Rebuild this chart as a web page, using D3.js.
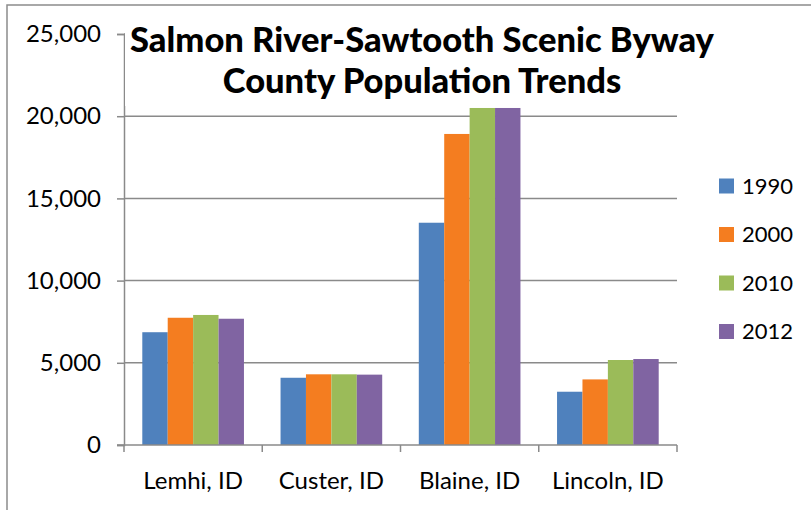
<!DOCTYPE html>
<html>
<head>
<meta charset="utf-8">
<script src="https://cdn.jsdelivr.net/npm/d3@7"></script>
<style>
  html, body { margin: 0; padding: 0; background: #fff; }
  svg { display: block; }
  text { font-family: Lato, "Open Sans", sans-serif; fill: #000; }
</style>
</head>
<body>
<svg id="chart" width="811" height="510"></svg>
<script>
// County population by census year
const counties = ["Lemhi, ID", "Custer, ID", "Blaine, ID", "Lincoln, ID"];
const years = ["1990", "2000", "2010", "2012"];
const pop1990 = [6860, 4090, 13520, 3240];
const pop2000 = [7740, 4300, 18920, 3990];
const pop2010 = [7910, 4300, 20500, 5170];
const pop2012 = [7680, 4280, 20500, 5230];
const yTicks = [0, 5000, 10000, 15000, 20000, 25000];
const yearColors = ["#4F81BD", "#F47D20", "#9BBB59", "#8064A2"];
const titleLines = ["Salmon River-Sawtooth Scenic Byway", "County Population Trends"];

const series = [pop1990, pop2000, pop2010, pop2012];
const rows = counties.map((c, i) => ({
  county: c,
  values: years.map((y, k) => ({ year: y, value: series[k][i] }))
}));

const svg = d3.select("#chart");
const W = 811, H = 510;
const plot = { left: 124, right: 677, top: 34, bottom: 445 };

// chart frame
svg.append("rect")
  .attr("x", 7).attr("y", 5)
  .attr("width", W + 20).attr("height", H + 20)
  .attr("fill", "#fff")
  .attr("stroke", "#8c8c8c").attr("stroke-width", 1.5);

const x0 = d3.scaleBand().domain(counties).range([plot.left, plot.right]).paddingInner(0).paddingOuter(0);
const x1 = d3.scaleBand().domain(years).range([0, x0.bandwidth()]).paddingInner(0).paddingOuter(0.72);
const y = d3.scaleLinear().domain([0, 25000]).range([plot.bottom, plot.top]);
const color = d3.scaleOrdinal().domain(years).range(yearColors);

// horizontal gridlines
svg.append("g")
  .selectAll("line")
  .data(yTicks.filter(t => t > 0))
  .join("line")
  .attr("x1", plot.left).attr("x2", plot.right)
  .attr("y1", d => y(d)).attr("y2", d => y(d))
  .attr("stroke", "#8a8a8a").attr("stroke-width", 1.5);

// y axis
const yAxis = d3.axisLeft(y)
  .tickValues(yTicks)
  .tickSize(7)
  .tickPadding(16)
  .tickFormat(d3.format(","));
const gy = svg.append("g").attr("transform", `translate(${plot.left},0)`).call(yAxis);
gy.select(".domain").attr("stroke", "#8a8a8a").attr("stroke-width", 1.5);
gy.selectAll(".tick line").attr("stroke", "#8a8a8a").attr("stroke-width", 1.5);
gy.selectAll(".tick text")
  .style("font-family", "Lato, 'Open Sans', sans-serif")
  .style("font-size", "24px")
  .attr("fill", "#000");

// bars
svg.append("g")
  .selectAll("g")
  .data(rows)
  .join("g")
  .attr("transform", d => `translate(${x0(d.county)},0)`)
  .selectAll("rect")
  .data(d => d.values)
  .join("rect")
  .attr("x", d => x1(d.year))
  .attr("width", x1.bandwidth())
  .attr("y", d => y(d.value))
  .attr("height", d => y(0) - y(d.value))
  .attr("fill", d => color(d.year));

// x axis with category boundary ticks
const gx = svg.append("g").attr("transform", `translate(0,${plot.bottom})`);
gx.append("line")
  .attr("x1", plot.left - 7).attr("x2", plot.right)
  .attr("y1", 0).attr("y2", 0)
  .attr("stroke", "#8a8a8a").attr("stroke-width", 1.5);
const bounds = counties.map(c => x0(c)).concat([x0(counties[counties.length - 1]) + x0.bandwidth()]);
gx.selectAll("line.sep")
  .data(bounds)
  .join("line")
  .attr("class", "sep")
  .attr("x1", d => d).attr("x2", d => d)
  .attr("y1", 0).attr("y2", 7)
  .attr("stroke", "#8a8a8a").attr("stroke-width", 1.5);
gx.selectAll("text")
  .data(counties)
  .join("text")
  .attr("x", d => x0(d) + x0.bandwidth() / 2)
  .attr("y", 36)
  .attr("dy", "0.35em")
  .attr("text-anchor", "middle")
  .style("font-size", "24px")
  .text(d => d);

// title plate and title
svg.append("rect")
  .attr("x", 125).attr("y", 12)
  .attr("width", 592).attr("height", 94)
  .attr("fill", "#fff");
svg.append("g")
  .selectAll("text")
  .data(titleLines)
  .join("text")
  .attr("x", 422)
  .attr("y", (d, i) => 40 + i * 41)
  .attr("dy", "0.35em")
  .attr("text-anchor", "middle")
  .style("font-size", "34.5px")
  .style("font-weight", "900")
  .text(d => d);

// legend
const legend = svg.append("g")
  .selectAll("g")
  .data(years)
  .join("g")
  .attr("transform", (d, i) => `translate(719,${186 + i * 48.5})`);
legend.append("rect")
  .attr("x", 0).attr("y", -7.5)
  .attr("width", 15).attr("height", 15)
  .attr("fill", d => color(d));
legend.append("text")
  .attr("x", 23).attr("y", 0)
  .attr("dy", "0.35em")
  .style("font-size", "22px")
  .text(d => d);
</script>
</body>
</html>
